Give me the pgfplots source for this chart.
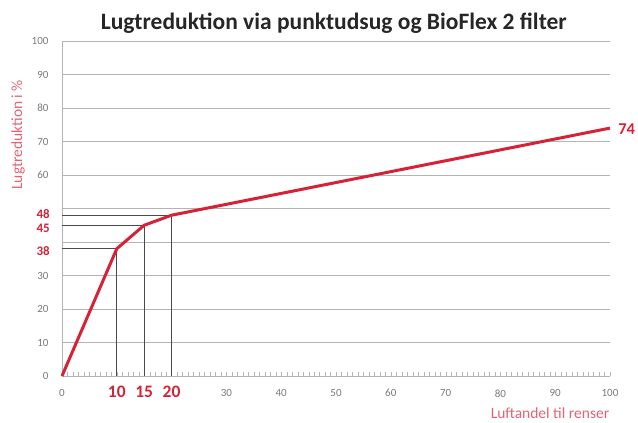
\documentclass[border=0pt]{standalone}
\usepackage{fontspec}
\setmainfont{Carlito}
\usepackage{pgfplots}
\pgfplotsset{compat=1.18}
\definecolor{lred}{HTML}{D62237}
\definecolor{gridg}{HTML}{B4B4B4}
\definecolor{tickg}{HTML}{7A7A7A}
\definecolor{refg}{HTML}{4A4A4A}
\begin{document}
\begin{tikzpicture}
\begin{axis}[
  scale only axis,
  width=548pt, height=335pt,
  xmin=0, xmax=100, ymin=0, ymax=100,
  axis x line=bottom, axis y line=left,
  axis line style={gridg, -},
  xtick={0,30,40,...,100},
  minor xtick={0,1,...,100},
  ytick={0,10,...,100},
  yticklabels={0,10,20,30,,,60,70,80,90,100},
  ymajorgrids, grid style={gridg, line width=0.6pt},
  major tick length=0pt,
  minor tick length=3.5pt,
  tick align=inside,
  minor x tick style={gridg},
  every tick label/.append style={font=\fontsize{11}{12}\selectfont, text=tickg},
  /pgf/number format/assume math mode=true,
  xticklabel style={yshift=-10pt},
  yticklabel style={xshift=-10pt},
  clip=false,
]
% reference lines
\addplot[refg, line width=0.8pt] coordinates {(0,38) (10,38) (10,0)};
\addplot[refg, line width=0.8pt] coordinates {(0,45) (15,45) (15,0)};
\addplot[refg, line width=0.8pt] coordinates {(0,48) (20,48) (20,0)};
\addplot[lred, line width=3pt, line join=round] coordinates {(0,0) (10,38) (15,45) (20,48) (100,74)};
% labels
\node[anchor=base, font=\fontsize{23.5}{25}\selectfont\bfseries, text=black!85] at (axis cs:49.6,103.3) {Lugtreduktion via punktudsug og BioFlex 2 filter};
\node[rotate=90, font=\fontsize{15.5}{16}\selectfont, text=lred!70] at (axis cs:-8.0,72) {Lugtreduktion i \%};
\node[anchor=east, font=\fontsize{15.5}{16}\selectfont, text=lred!70] at (axis cs:100.5,-11.1) {Luftandel til renser};
\node[font=\fontsize{17.5}{18}\selectfont\bfseries, text=lred] at (axis cs:10,-4.6) {10};
\node[font=\fontsize{17.5}{18}\selectfont\bfseries, text=lred] at (axis cs:15,-4.6) {15};
\node[font=\fontsize{17.5}{18}\selectfont\bfseries, text=lred] at (axis cs:20,-4.6) {20};
\node[anchor=east, inner sep=0pt, font=\fontsize{13}{13}\selectfont\bfseries, text=lred] at (axis cs:-2.2,37.4) {38};
\node[anchor=east, inner sep=0pt, font=\fontsize{13}{13}\selectfont\bfseries, text=lred] at (axis cs:-2.2,44.0) {45};
\node[anchor=east, inner sep=0pt, font=\fontsize{13}{13}\selectfont\bfseries, text=lred] at (axis cs:-2.2,48.3) {48};
\node[anchor=west, inner sep=1pt, font=\fontsize{16.5}{17}\selectfont\bfseries, text=lred] at (axis cs:101.3,73.7) {74};
\end{axis}
\pgfresetboundingbox
\path[use as bounding box] (current axis.south west) ++(-62pt,-47pt) rectangle ++(638pt,423pt);
\end{tikzpicture}
\end{document}
